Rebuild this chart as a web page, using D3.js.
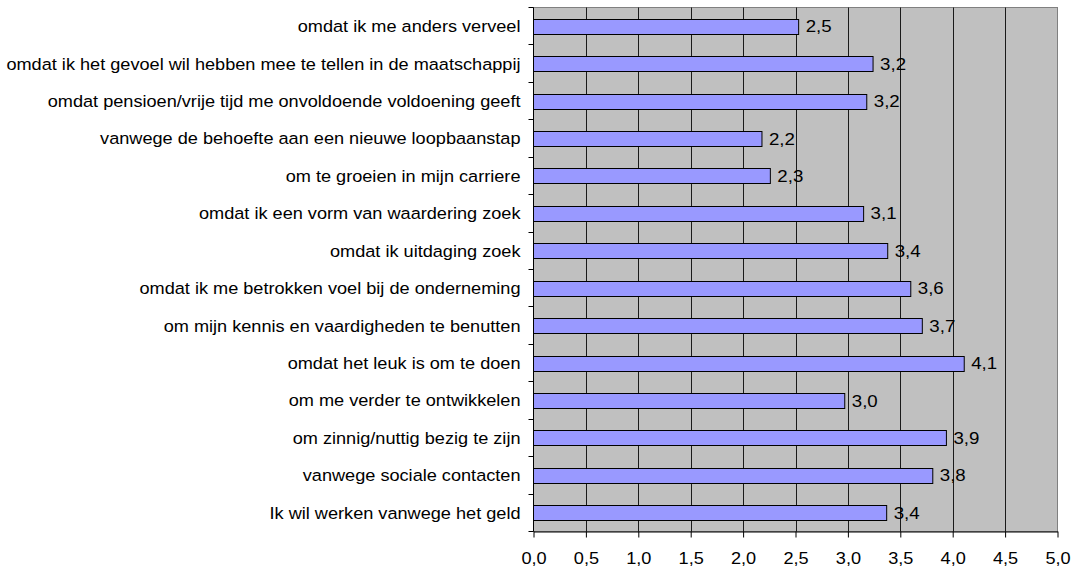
<!DOCTYPE html>
<html>
<head>
<meta charset="utf-8">
<script src="https://cdn.jsdelivr.net/npm/d3@7"></script>
<style>
  html, body { margin: 0; padding: 0; background: #fff; }
  text { font-family: Arial, "Liberation Sans", sans-serif; fill: #000; }
</style>
</head>
<body>
<svg id="chart" width="1076" height="567"></svg>
<script>
const categories = [
  "omdat ik me anders verveel",
  "omdat ik het gevoel wil hebben mee te tellen in de maatschappij",
  "omdat pensioen/vrije tijd me onvoldoende voldoening geeft",
  "vanwege de behoefte aan een nieuwe loopbaanstap",
  "om te groeien in mijn carriere",
  "omdat ik een vorm van waardering zoek",
  "omdat ik uitdaging zoek",
  "omdat ik me betrokken voel bij de onderneming",
  "om mijn kennis en vaardigheden te benutten",
  "omdat het leuk is om te doen",
  "om me verder te ontwikkelen",
  "om zinnig/nuttig bezig te zijn",
  "vanwege sociale contacten",
  "Ik wil werken vanwege het geld"
];
const values = [2.53, 3.24, 3.18, 2.18, 2.26, 3.15, 3.38, 3.60, 3.71, 4.11, 2.97, 3.94, 3.81, 3.37];
const xTicks = [0, 0.5, 1, 1.5, 2, 2.5, 3, 3.5, 4, 4.5, 5];

const svg = d3.select("#chart");
const mLeft = 533.5, mRight = 1057.5, mTop = 7.5, mBottom = 531.5;
const FS = 16.5, SX = 1.1;

const x = d3.scaleLinear().domain([0, 5]).range([mLeft, mRight]);
const y = d3.scaleBand().domain(categories).range([mTop, mBottom]).paddingInner(0.6).paddingOuter(0.3);
const yBand = d3.scaleBand().domain(categories).range([mTop, mBottom]);
const fmt = v => d3.format(".1f")(v).replace(".", ",");

// plot background
svg.append("rect")
  .attr("x", mLeft).attr("y", mTop)
  .attr("width", mRight - mLeft).attr("height", mBottom - mTop)
  .attr("fill", "#C0C0C0").attr("stroke", "#808080").attr("stroke-width", 1);

// vertical gridlines
svg.append("g").selectAll("line").data(xTicks.slice(1, -1)).join("line")
  .attr("x1", d => Math.round(x(d)) + 0.5).attr("x2", d => Math.round(x(d)) + 0.5)
  .attr("y1", mTop).attr("y2", mBottom)
  .attr("stroke", "#1a1a1a").attr("stroke-width", 1);

// bars
svg.append("g").selectAll("rect").data(categories).join("rect")
  .attr("x", mLeft)
  .attr("y", d => Math.round(y(d)) + 0.5)
  .attr("width", (d, i) => x(values[i]) - mLeft)
  .attr("height", Math.round(y.bandwidth()))
  .attr("fill", "#9999FF").attr("stroke", "#000").attr("stroke-width", 1);

// value labels
svg.append("g").selectAll("text").data(categories).join("text")
  .attr("transform", (d, i) => `translate(${x(values[i]) + 7},${y(d) + y.bandwidth() / 2}) scale(${SX},1)`)
  .attr("dy", "0.36em")
  .attr("font-size", FS + 0.5)
  .text((d, i) => fmt(values[i]));

// x axis
const xAxis = d3.axisBottom(x).tickValues(xTicks).tickSize(6).tickSizeOuter(0).tickFormat(fmt);
const gx = svg.append("g").attr("transform", `translate(0,${mBottom})`).call(xAxis);
gx.select(".domain").attr("stroke", "#000");
gx.selectAll(".tick line").attr("stroke", "#000");
gx.selectAll(".tick text")
  .attr("font-size", FS).attr("dy", 0).attr("y", 0)
  .attr("transform", `translate(0,32) scale(${SX},1)`)
  .attr("font-family", "Arial, 'Liberation Sans', sans-serif").attr("fill", "#000");

// y axis (band boundaries ticks)
svg.append("line").attr("x1", mLeft).attr("x2", mLeft).attr("y1", mTop).attr("y2", mBottom)
  .attr("stroke", "#000").attr("stroke-width", 1);
const bounds = categories.map(c => yBand(c)).concat([mBottom]);
svg.append("g").selectAll("line").data(bounds).join("line")
  .attr("x1", mLeft - 5).attr("x2", mLeft)
  .attr("y1", d => Math.round(d - 0.5) + 0.5).attr("y2", d => Math.round(d - 0.5) + 0.5)
  .attr("stroke", "#000");

// category labels
svg.append("g").selectAll("text").data(categories).join("text")
  .attr("transform", d => `translate(${mLeft - 13},${yBand(d) + yBand.bandwidth() / 2}) scale(${SX},1)`)
  .attr("dy", "0.36em")
  .attr("text-anchor", "end")
  .attr("font-size", FS)
  .text(d => d);
</script>
</body>
</html>
